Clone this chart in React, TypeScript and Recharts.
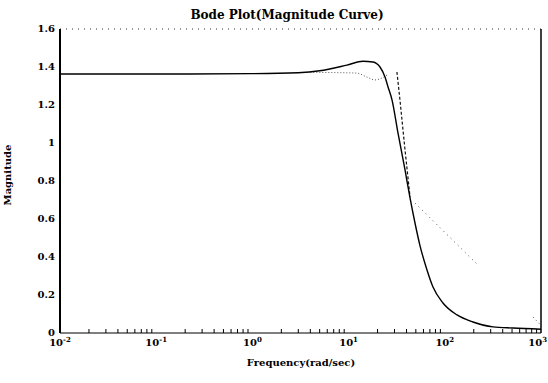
import React from "react";
import { LineChart, Line, XAxis, YAxis } from "recharts";

// Frequency (rad/sec) and magnitude readings for each trace
const solidFreq = [0.01, 0.1, 1, 3, 5, 9.6, 14.1, 17.9, 21.2, 23.9, 25.7, 28.3, 32.6, 38.6, 43.5, 49, 55.2, 65.3, 75.4, 95.7, 134, 196, 317, 511, 1000];
const solidMag = [1.363, 1.363, 1.365, 1.37, 1.38, 1.41, 1.43, 1.426, 1.4, 1.347, 1.295, 1.226, 1.053, 0.858, 0.711, 0.579, 0.46, 0.332, 0.242, 0.158, 0.095, 0.058, 0.032, 0.026, 0.02];

const lowerDotFreq = [4, 8, 12.2, 15.5, 18.8, 22.2, 25.1];
const lowerDotMag = [1.372, 1.37, 1.368, 1.347, 1.332, 1.342, 1.358];

const dashedFreq = [31.8, 34.2, 38.6, 43.5];
const dashedMag = [1.374, 1.226, 0.963, 0.716];

const slopeFreq = [49, 221];
const slopeMag = [0.684, 0.358];

const tailFreq = [826, 1000];
const tailMag = [0.084, 0.04];

// Axis ticks
const majorTicks = [0.01, 0.1, 1, 10, 100, 1000];
const tickExponents = ["-2", "-1", "0", "1", "2", "3"];
const decades = [0.01, 0.1, 1, 10, 100];
const minorMultipliers = [2, 3, 4, 5, 6, 7, 8, 9];
const minorTicks = decades.flatMap((d) => minorMultipliers.map((k) => Number((d * k).toPrecision(3))));
const yTicks = [0, 0.2, 0.4, 0.6, 0.8, 1, 1.2, 1.4, 1.6];
const yLabels = ["0", "0.2", "0.4", "0.6", "0.8", "1", "1.2", "1.4", "1.6"];

const toPoints = (f: number[], m: number[]) => f.map((w, i) => ({ w, m: m[i] }));

const FONT = "'DejaVu Serif', 'Liberation Serif', serif";

const XTick = (props: any) => {
  const { x, y, index } = props;
  const last = index === majorTicks.length - 1;
  return (
    <text x={last ? x + 6 : x} y={y + 11} textAnchor={last ? "end" : "middle"} fontSize={10} fontWeight="bold" fontFamily={FONT} fill="#000">
      <tspan>10</tspan>
      <tspan dy={-4} fontSize={7}>{tickExponents[index]}</tspan>
    </text>
  );
};

const YTick = (props: any) => {
  const { x, y, index } = props;
  return (
    <text x={x} y={y + 3} textAnchor="end" fontSize={10} fontWeight="bold" fontFamily={FONT} fill="#000">
      {yLabels[index]}
    </text>
  );
};

const NoLabel = () => <g />;

export default function App() {
  return (
    <div style={{ position: "absolute", left: 0, top: 0, width: 548, height: 383, background: "#fff", fontFamily: FONT }}>
      <LineChart width={548} height={383} margin={{ top: 29, right: 7, bottom: 20, left: 0 }}>
        <XAxis
          xAxisId="x"
          dataKey="w"
          type="number"
          scale="log"
          domain={[0.01, 1000]}
          allowDataOverflow
          ticks={majorTicks}
          interval={0}
          tick={<XTick />}
          tickLine={false}
          tickSize={0}
          height={30}
          axisLine={{ stroke: "#000", strokeWidth: 1.2 }}
        />
        <XAxis
          xAxisId="minor"
          dataKey="w"
          type="number"
          scale="log"
          domain={[0.01, 1000]}
          allowDataOverflow
          ticks={minorTicks}
          interval={0}
          mirror
          tick={<NoLabel />}
          tickSize={4}
          tickLine={{ stroke: "#000", strokeWidth: 1 }}
          axisLine={false}
        />
        <XAxis
          xAxisId="top"
          orientation="top"
          dataKey="w"
          type="number"
          scale="log"
          domain={[0.01, 1000]}
          allowDataOverflow
          mirror
          tick={false}
          tickLine={false}
          axisLine={{ stroke: "#333", strokeDasharray: "1 5" }}
        />
        <YAxis
          yAxisId="y"
          type="number"
          domain={[0, 1.6]}
          ticks={yTicks}
          interval={0}
          tick={<YTick />}
          tickLine={false}
          tickSize={0}
          tickMargin={5}
          width={60}
          axisLine={{ stroke: "#000", strokeWidth: 2 }}
        />
        <YAxis
          yAxisId="r"
          orientation="right"
          type="number"
          domain={[0, 1.6]}
          ticks={yTicks}
          interval={0}
          mirror
          tick={<NoLabel />}
          tickSize={3}
          tickLine={{ stroke: "#000" }}
          axisLine={{ stroke: "#000", strokeWidth: 1.5 }}
        />
        <Line data={toPoints(lowerDotFreq, lowerDotMag)} dataKey="m" xAxisId="x" yAxisId="y" type="monotone" dot={false} stroke="#555" strokeWidth={1} strokeDasharray="1 2" isAnimationActive={false} />
        <Line data={toPoints(dashedFreq, dashedMag)} dataKey="m" xAxisId="x" yAxisId="y" type="linear" dot={false} stroke="#111" strokeWidth={1.2} strokeDasharray="3 2" isAnimationActive={false} />
        <Line data={toPoints(slopeFreq, slopeMag)} dataKey="m" xAxisId="x" yAxisId="y" type="linear" dot={false} stroke="#555" strokeWidth={1} strokeDasharray="1 4" isAnimationActive={false} />
        <Line data={toPoints(tailFreq, tailMag)} dataKey="m" xAxisId="x" yAxisId="y" type="linear" dot={false} stroke="#555" strokeWidth={1} strokeDasharray="1 3" isAnimationActive={false} />
        <Line data={toPoints(solidFreq, solidMag)} dataKey="m" xAxisId="x" yAxisId="y" type="monotone" dot={false} stroke="#000" strokeWidth={1.4} isAnimationActive={false} />
      </LineChart>
      <div style={{ position: "absolute", left: 0, width: 574, top: 7, textAlign: "center", fontSize: 12, fontWeight: "bold", fontFamily: FONT, lineHeight: "16px" }}>
        Bode Plot(Magnitude Curve)
      </div>
      <div style={{ position: "absolute", left: 0, width: 602, top: 356, textAlign: "center", fontSize: 10, fontWeight: "bold", fontFamily: FONT, lineHeight: "14px" }}>
        Frequency(rad/sec)
      </div>
      <div style={{ position: "absolute", left: 8, top: 175, width: 0, height: 0 }}>
        <div style={{ position: "absolute", left: -50, top: -7, width: 100, textAlign: "center", fontSize: 10, fontWeight: "bold", fontFamily: FONT, lineHeight: "14px", transform: "rotate(-90deg)" }}>
          Magnitude
        </div>
      </div>
    </div>
  );
}
